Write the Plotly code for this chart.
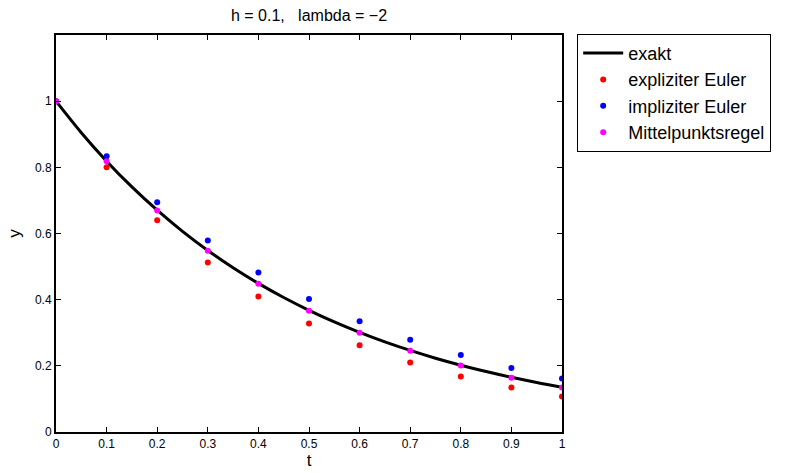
import plotly.graph_objects as go

# exact solution y = exp(-2t), sampled values
t_exact = [0.0, 0.05, 0.1, 0.15, 0.2, 0.25, 0.3, 0.35, 0.4, 0.45, 0.5,
           0.55, 0.6, 0.65, 0.7, 0.75, 0.8, 0.85, 0.9, 0.95, 1.0]
y_exact = [1.0, 0.9048, 0.8187, 0.7408, 0.6703, 0.6065, 0.5488, 0.4966, 0.4493, 0.4066, 0.3679,
           0.3329, 0.3012, 0.2725, 0.2466, 0.2231, 0.2019, 0.1827, 0.1653, 0.1496, 0.1353]

t_pts = [0.0, 0.1, 0.2, 0.3, 0.4, 0.5, 0.6, 0.7, 0.8, 0.9, 1.0]
y_expl = [1.0, 0.8, 0.64, 0.512, 0.4096, 0.3277, 0.2621, 0.2097, 0.1678, 0.1342, 0.1074]
y_impl = [1.0, 0.8333, 0.6944, 0.5787, 0.4823, 0.4019, 0.3349, 0.2791, 0.2326, 0.1938, 0.1615]
y_mid = [1.0, 0.8182, 0.6694, 0.5477, 0.4481, 0.3667, 0.3000, 0.2455, 0.2008, 0.1643, 0.1344]

x_ticks = [0, 0.1, 0.2, 0.3, 0.4, 0.5, 0.6, 0.7, 0.8, 0.9, 1]
y_ticks = [0, 0.2, 0.4, 0.6, 0.8, 1]

FONT = "Liberation Sans Narrow, Arial Narrow, Liberation Sans, Arial, sans-serif"

fig = go.Figure()
fig.add_trace(go.Scatter(x=t_exact, y=y_exact, mode="lines", name="exakt",
                         line=dict(color="black", width=3, shape="spline")))
fig.add_trace(go.Scatter(x=t_pts, y=y_expl, mode="markers", name="expliziter Euler",
                         marker=dict(color="#ff0000", size=6)))
fig.add_trace(go.Scatter(x=t_pts, y=y_impl, mode="markers", name="impliziter Euler",
                         marker=dict(color="#0000ff", size=6)))
fig.add_trace(go.Scatter(x=t_pts, y=y_mid, mode="markers", name="Mittelpunktsregel",
                         marker=dict(color="#ff00ff", size=6)))

fig.update_layout(
    width=805, height=473,
    margin=dict(l=56, r=243, t=35, b=41),
    paper_bgcolor="white", plot_bgcolor="white",
    font=dict(family="Liberation Sans, Arial, sans-serif", size=11, color="black"),
    title=dict(text="h = 0.1,   lambda = \u22122", x=(56 + 562) / 2 / 805, xanchor="center",
               y=1 - 15 / 473, yanchor="middle", font=dict(family=FONT, size=16)),
    showlegend=True,
    legend=dict(x=1.03, xanchor="left", y=1.003, yanchor="top",
                bordercolor="black", borderwidth=1, bgcolor="white",
                font=dict(family="Liberation Sans, Arial, sans-serif", size=18),
                tracegroupgap=0, itemwidth=40),
)
fig.update_xaxes(range=[0, 1], tickvals=x_ticks, ticktext=[str(v) for v in x_ticks],
                 ticks="inside", ticklen=5, tickcolor="black", showline=True, linecolor="black",
                 linewidth=2, mirror="ticks", showgrid=False, zeroline=False, automargin=False,
                 tickfont=dict(size=12),
                 title=dict(text="t", font=dict(size=17), standoff=4))
fig.update_yaxes(range=[0, 1.2], tickvals=y_ticks, ticktext=[str(v) for v in y_ticks],
                 ticks="inside", ticklen=5, tickcolor="black", showline=True, linecolor="black",
                 linewidth=2, mirror="ticks", showgrid=False, zeroline=False, automargin=False,
                 tickfont=dict(size=12),
                 title=dict(text="y", font=dict(size=17), standoff=10))

fig.write_html("out.html")
